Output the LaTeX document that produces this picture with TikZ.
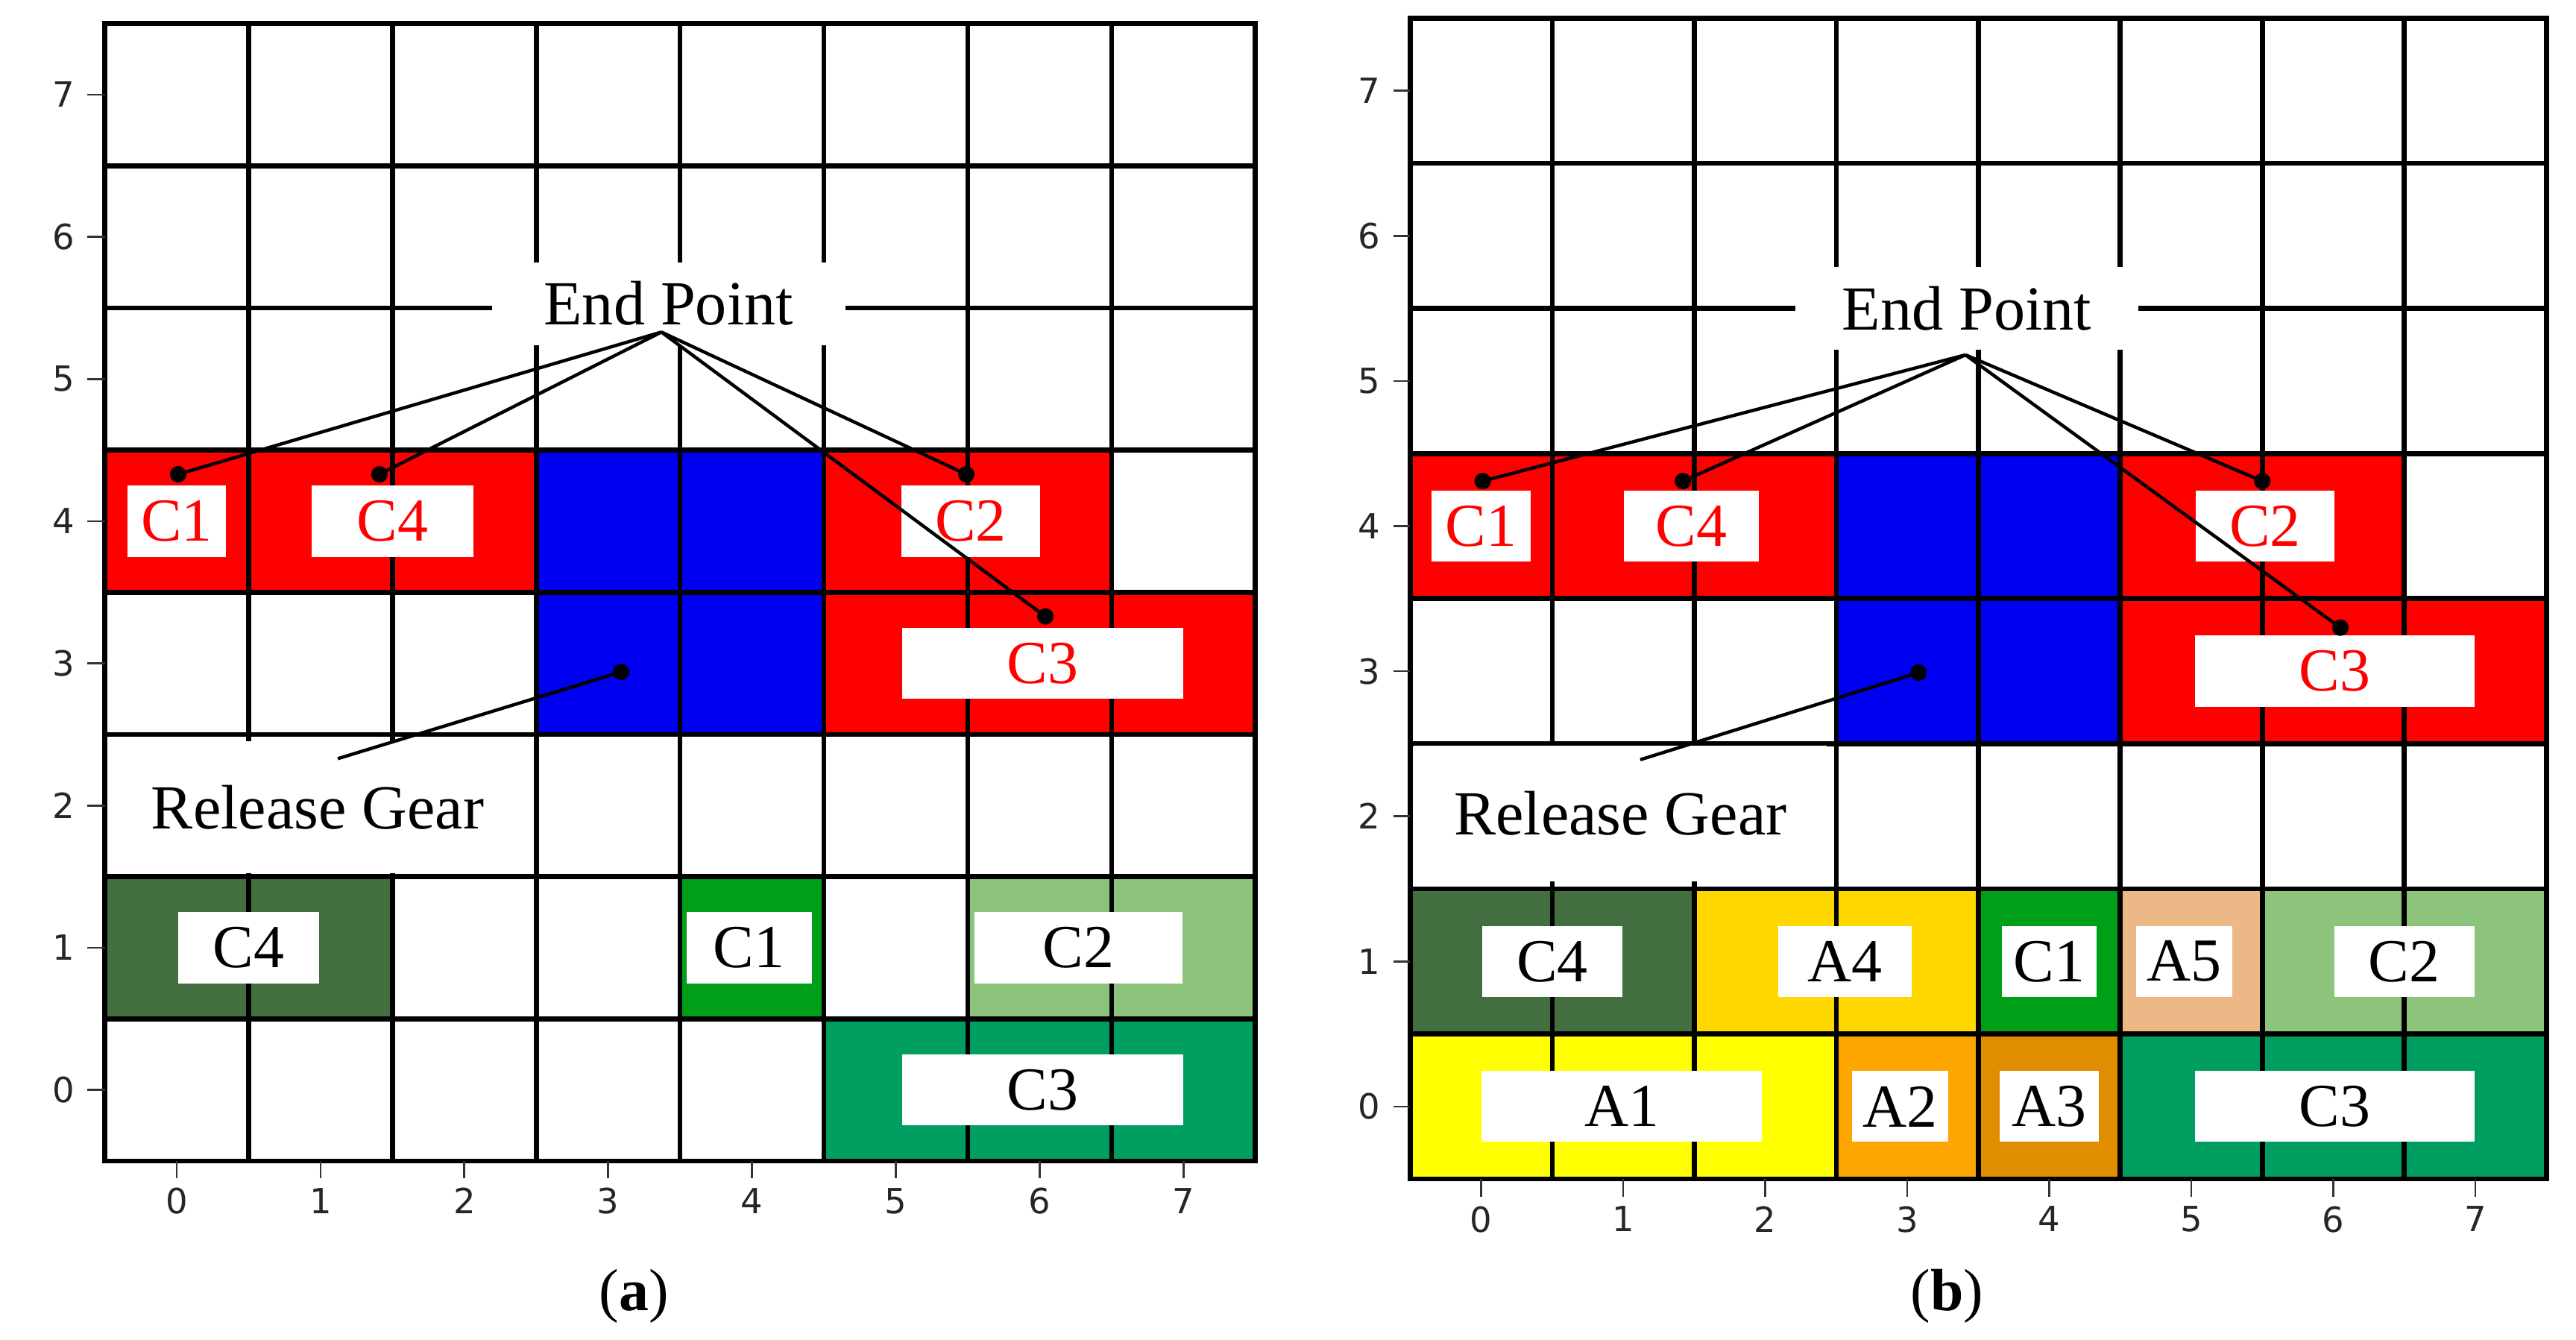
\documentclass[tikz,border=0pt]{standalone}
\usepackage{fontspec}
\setmainfont{Liberation Serif}
\newfontfamily\tickf{DejaVu Sans}
\definecolor{cred}{HTML}{FF0000}
\definecolor{cblue}{HTML}{0000F0}
\definecolor{cdg}{HTML}{436F40}
\definecolor{cg}{HTML}{009F18}
\definecolor{clg}{HTML}{8BC47A}
\definecolor{cg3}{HTML}{009E60}
\definecolor{cyel}{HTML}{FFFF00}
\definecolor{cgold}{HTML}{FFD800}
\definecolor{corg}{HTML}{FFA500}
\definecolor{cdorg}{HTML}{E08D00}
\definecolor{cpeach}{HTML}{EBB886}
\tikzset{
  gl/.style={line width=3pt, black},
  lbl/.style={fill=white, inner sep=0pt, minimum height=43pt, font=\fontsize{37}{37}\selectfont},
  rl/.style={lbl, text=cred},
  ptr/.style={line width=2pt, black},
  dot/.style={circle, fill=black, inner sep=0pt, minimum size=10pt},
  tk/.style={font=\tickf\fontsize{21}{21}\selectfont, text=black!85},
  ann/.style={fill=white, inner sep=6pt, font=\fontsize{38}{38}\selectfont}
}
\begin{document}
\begin{tikzpicture}[x=1pt,y=1pt]
\useasboundingbox[fill=white] (0,0) rectangle (1560,811);
% ---------------- panel (a)
\begin{scope}[shift={(107,151)}, x=87.1pt, y=86.1pt]
\fill[cred] (-0.5,3.5) rectangle (2.5,4.5);
\fill[cred] (4.5,3.5) rectangle (6.5,4.5);
\fill[cred] (4.5,2.5) rectangle (7.5,3.5);
\fill[cblue] (2.5,2.5) rectangle (4.5,4.5);
\fill[cdg] (-0.5,0.5) rectangle (1.5,1.5);
\fill[cg] (3.5,0.5) rectangle (4.5,1.5);
\fill[clg] (5.5,0.5) rectangle (7.5,1.5);
\fill[cg3] (4.5,-0.5) rectangle (7.5,0.5);
\foreach \i in {0.5,1.5,...,6.5} {\draw[gl] (\i,-0.5) -- (\i,7.5); \draw[gl] (-0.5,\i) -- (7.5,\i);}
\draw[gl] (-0.5,-0.5) rectangle (7.5,7.5);
\foreach \i in {0,...,7} {
  \draw[line width=1.2pt, black!80] (\i,-0.5) -- (\i,-0.62) node[tk, below=2pt] (ax\i) {\i};
  \draw[line width=1.2pt, black!80] (-0.5,\i) -- (-0.62,\i) node[tk, left=4pt] (ay\i) {\i};
}
\node[rl, minimum width=60pt] (a1) at (0,4) {C1};
\node[rl, minimum width=98pt] (a4) at (1.5,4) {C4};
\node[rl, minimum width=84pt] (a2) at (5.52,4) {C2};
\node[rl, minimum width=170pt] (a3) at (6.02,3) {C3};
\node[lbl, minimum width=85pt] (b4) at (0.5,1) {C4};
\node[lbl, minimum width=76pt] (b1) at (3.98,1) {C1};
\node[lbl, minimum width=126pt] (b2) at (6.27,1) {C2};
\node[lbl, minimum width=170pt] (b3) at (6.02,0) {C3};
\node[ann, minimum width=214pt, minimum height=50pt] (ep) at (3.42,5.53) {End Point};
\node[ann, minimum width=255pt, minimum height=80pt] (rg) at (0.98,1.99) {Release Gear};
\coordinate (apx) at (3.37,5.33);
\node[dot] (d1) at (0.01,4.33) {};
\node[dot] (d4) at (1.41,4.33) {};
\node[dot] (d2) at (5.49,4.33) {};
\node[dot] (d3) at (6.04,3.33) {};
\node[dot] (dg) at (3.09,2.94) {};
\coordinate (rge) at (1.12,2.33);
\foreach \d in {d1,d4,d2,d3} \draw[ptr] (apx) -- (\d.center);
\draw[ptr] (dg.center) -- (rge);
\node[font=\fontsize{36}{36}\selectfont] (capa) at (3.18,-1.45) {(\textbf{a})};
\end{scope}
% ---------------- panel (b)
\begin{scope}[shift={(897,141)}, x=86pt, y=87.86pt]
\fill[cred] (-0.5,3.5) rectangle (2.5,4.5);
\fill[cred] (4.5,3.5) rectangle (6.5,4.5);
\fill[cred] (4.5,2.5) rectangle (7.5,3.5);
\fill[cblue] (2.5,2.5) rectangle (4.5,4.5);
\fill[cdg] (-0.5,0.5) rectangle (1.5,1.5);
\fill[cgold] (1.5,0.5) rectangle (3.5,1.5);
\fill[cg] (3.5,0.5) rectangle (4.5,1.5);
\fill[cpeach] (4.5,0.5) rectangle (5.5,1.5);
\fill[clg] (5.5,0.5) rectangle (7.5,1.5);
\fill[cyel] (-0.5,-0.5) rectangle (2.5,0.5);
\fill[corg] (2.5,-0.5) rectangle (3.5,0.5);
\fill[cdorg] (3.5,-0.5) rectangle (4.5,0.5);
\fill[cg3] (4.5,-0.5) rectangle (7.5,0.5);
\foreach \i in {0.5,1.5,...,6.5} {\draw[gl] (\i,-0.5) -- (\i,7.5); \draw[gl] (-0.5,\i) -- (7.5,\i);}
\draw[gl] (-0.5,-0.5) rectangle (7.5,7.5);
\foreach \i in {0,...,7} {
  \draw[line width=1.2pt, black!80] (\i,-0.5) -- (\i,-0.62) node[tk, below=2pt] (bx\i) {\i};
  \draw[line width=1.2pt, black!80] (-0.5,\i) -- (-0.62,\i) node[tk, left=4pt] (by\i) {\i};
}
\node[rl, minimum width=60pt] (p1) at (0,4) {C1};
\node[rl, minimum width=82pt] (p4) at (1.48,4) {C4};
\node[rl, minimum width=84pt] (p2) at (5.52,4) {C2};
\node[rl, minimum width=169pt] (p3) at (6.01,3) {C3};
\node[lbl, minimum width=85pt] (q4) at (0.5,1) {C4};
\node[lbl, minimum width=81pt] (qa4) at (2.56,1) {A4};
\node[lbl, minimum width=57pt] (q1) at (4,1) {C1};
\node[lbl, minimum width=58pt] (qa5) at (4.95,1) {A5};
\node[lbl, minimum width=85pt] (q2) at (6.5,1) {C2};
\node[lbl, minimum width=170pt] (qa1) at (0.99,0) {A1};
\node[lbl, minimum width=58pt] (qa2) at (2.95,0) {A2};
\node[lbl, minimum width=60pt] (qa3) at (4,0) {A3};
\node[lbl, minimum width=169pt] (q3) at (6.01,0) {C3};
\node[ann, minimum width=208pt, minimum height=50pt] (ep2) at (3.42,5.5) {End Point};
\node[ann, minimum width=250pt, minimum height=82pt] (rg2) at (0.98,2.02) {Release Gear};
\coordinate (apx2) at (3.41,5.18);
\node[dot] (e1) at (0.01,4.31) {};
\node[dot] (e4) at (1.42,4.31) {};
\node[dot] (e2) at (5.5,4.31) {};
\node[dot] (e3) at (6.05,3.3) {};
\node[dot] (eg) at (3.08,2.99) {};
\coordinate (rge2) at (1.12,2.39);
\foreach \d in {e1,e4,e2,e3} \draw[ptr] (apx2) -- (\d.center);
\draw[ptr] (eg.center) -- (rge2);
\node[font=\fontsize{36}{36}\selectfont] (capb) at (3.28,-1.31) {(\textbf{b})};
\end{scope}
\end{tikzpicture}
\end{document}
